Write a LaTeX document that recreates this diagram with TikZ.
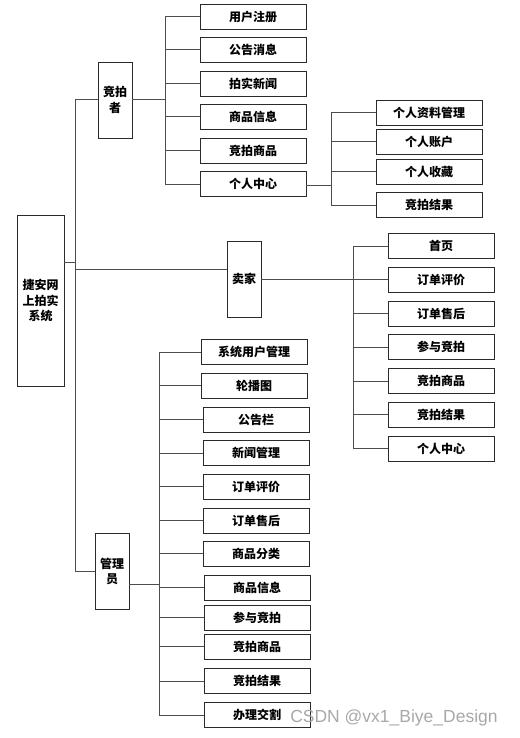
\documentclass[tikz,border=0pt]{standalone}
\usepackage{fontspec}
\newfontfamily\cjk{Noto Sans CJK SC}
\newfontfamily\marksans{Liberation Sans}
\usetikzlibrary{positioning, calc}
\definecolor{boxline}{HTML}{2B2B2B}
\definecolor{linkgray}{HTML}{4D4D4D}
\definecolor{markgray}{HTML}{A8A8A8}
\tikzset{
  mbox/.style={draw=boxline, line width=0.9pt, fill=white, inner sep=0pt,
               minimum width=106, minimum height=25,
               font=\cjk\bfseries\fontsize{12}{15.5}\selectfont},
  vbox/.style={mbox, minimum width=34, minimum height=76, align=center},
  link/.style={draw=linkgray, line width=1pt},
}

\begin{document}
\begin{tikzpicture}[x=1pt, y=-1pt]
  \useasboundingbox (0,0) rectangle (519,738);

  %% ── root ──
  \node[vbox, minimum width=47, minimum height=171] (root) at (40.5,300.5) {捷安网\\上拍实\\系统};
  \coordinate (trunk) at (75,262);
  \draw[link] (trunk -| root.east) -- (trunk);

  %% ── bidder ──
  \node[vbox] (bidder) at (115,100) {竞拍\\者};
  \coordinate (bbus) at (165,100);
  \draw[link] (bidder.east) -- (bbus);
  \foreach \t [count=\i] in {用户注册,公告消息,拍实新闻,商品信息,竞拍商品,个人中心}{
    \node[mbox] (b\i) at (253,{16.5+33.5*(\i-1)}) {\t};
    \draw[link] (bbus |- b\i.west) -- (b\i.west);
  }
  \draw[link] (bbus |- b1.west) -- (bbus |- b6.west);

  %% ── personal center ──
  \coordinate (pbus) at (331,185);
  \draw[link] (b6.east |- pbus) -- (pbus);
  \foreach \t/\y [count=\i] in {个人资料管理/112.5,个人账户/141.5,个人收藏/171.5,竞拍结果/205}{
    \node[mbox] (p\i) at (429,\y) {\t};
    \draw[link] (pbus |- p\i.west) -- (p\i.west);
  }
  \draw[link] (pbus |- p1.west) -- (pbus |- p4.west);

  %% ── seller ──
  \node[vbox] (seller) at (244,279) {卖家};
  \coordinate (sin) at (75,269);
  \draw[link] (sin) -- (sin -| seller.west);
  \coordinate (sbus) at (353,279);
  \draw[link] (seller.east) -- (sbus);
  \foreach \t [count=\i] in {首页,订单评价,订单售后,参与竞拍,竞拍商品,竞拍结果,个人中心}{
    \node[mbox] (s\i) at (441,{246+33.75*(\i-1)}) {\t};
    \draw[link] (sbus |- s\i.west) -- (s\i.west);
  }
  \draw[link] (sbus |- s1.west) -- (sbus |- s7.west);

  %% ── admin ──
  \node[vbox] (admin) at (112,571.5) {管理\\员};
  \coordinate (aout) at (159,584);
  \draw[link] (aout -| admin.east) -- (aout);
  \foreach \t/\x/\y [count=\i] in {系统用户管理/254/352, 轮播图/254/385.5, 公告栏/256/419.5,
      新闻管理/256/453, 订单评价/256/486.5, 订单售后/256/520.5, 商品分类/256/553.5,
      商品信息/257/587.5, 参与竞拍/257/617.5, 竞拍商品/257/646.5, 竞拍结果/257/681,
      办理交割/257/715}{
    \node[mbox] (a\i) at (\x,\y) {\t};
    \draw[link] (aout |- a\i.west) -- (a\i.west);
  }
  \draw[link] (aout |- a1.west) -- (aout |- a12.west);

  %% ── trunk ──
  \draw[link] (bidder.west -| trunk) -- (admin.west -| trunk);
  \draw[link] (bidder.west -| trunk) -- (bidder.west);
  \draw[link] (admin.west -| trunk) -- (admin.west);

  %% ── watermark ──
  \node[font=\marksans\fontsize{17.5}{20}\selectfont, text=markgray, inner sep=0pt]
    (mark) at (394,718) {CSDN @vx1\_Biye\_Design};
\end{tikzpicture}
\end{document}
